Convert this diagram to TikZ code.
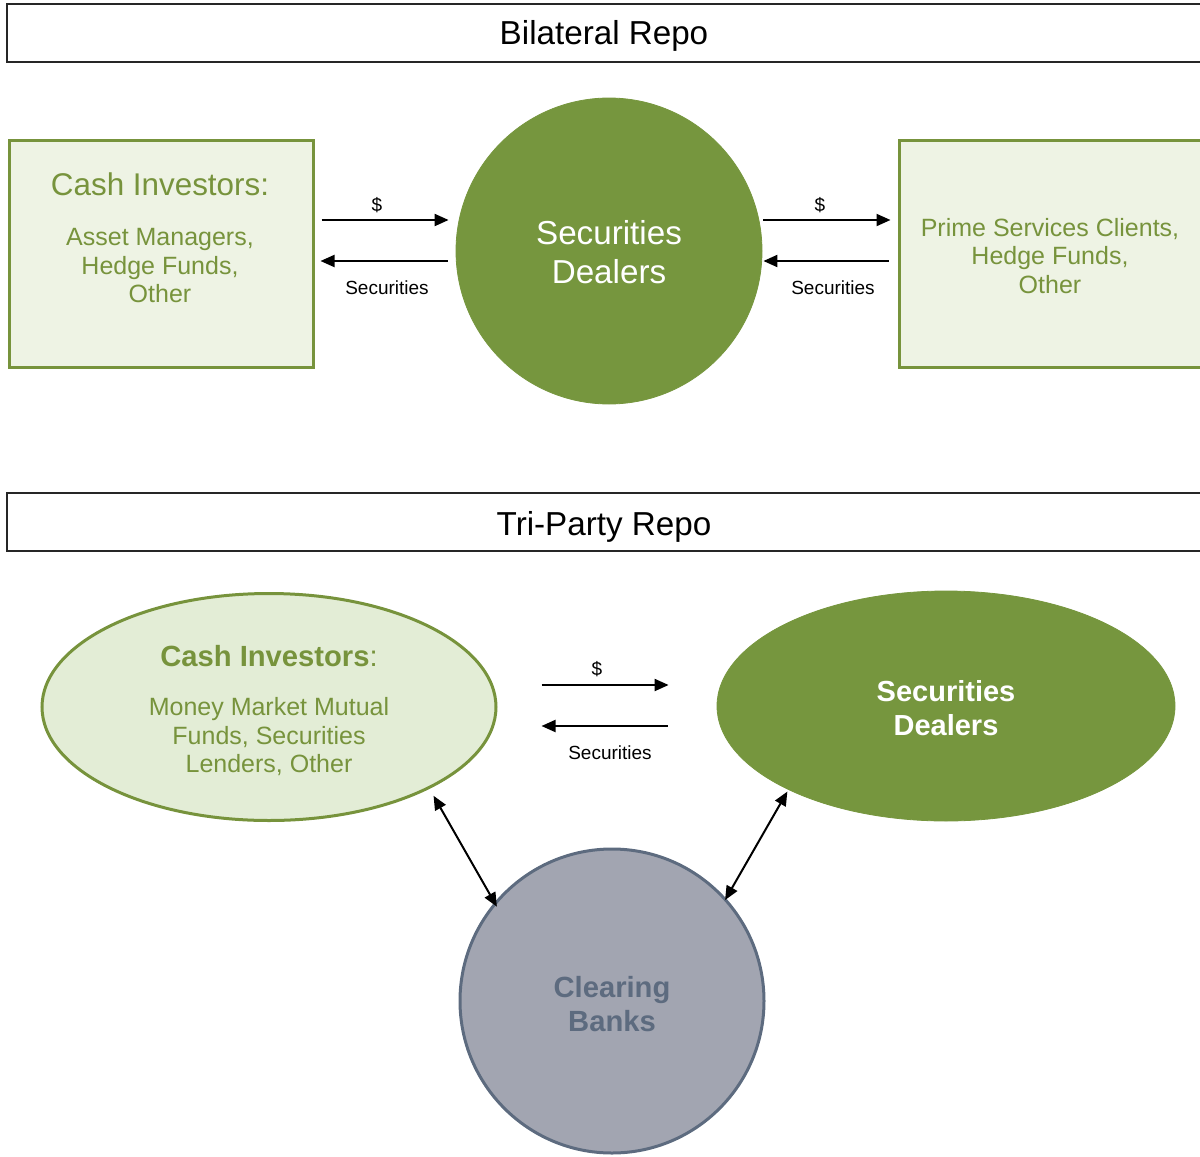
\documentclass[tikz,border=0pt]{standalone}
\usepackage{fontspec}
\setmainfont{Liberation Sans}
\usetikzlibrary{arrows.meta,calc,shapes.geometric}
\definecolor{gline}{HTML}{77933C}
\definecolor{gdark}{HTML}{76963E}
\definecolor{glight}{HTML}{EEF3E4}
\definecolor{gell}{HTML}{E3EDD6}
\definecolor{cbfill}{HTML}{A2A5B1}
\definecolor{cbline}{HTML}{5D6B7F}
\begin{document}
\begin{tikzpicture}[x=0.5pt,y=-0.5pt,
  titlebox/.style={draw=black!85,line width=0.75pt,minimum width=601.5pt,minimum height=29pt,inner sep=0pt},
  titletext/.style={font=\fontsize{16.6}{20}\selectfont,inner sep=0pt},
  gbox/.style={draw=gline,fill=glight,line width=1.5pt,minimum height=113.5pt,inner sep=0pt},
  gcirc/.style={circle,fill=gdark,draw=gdark,minimum size=153pt,inner sep=0pt},
  bigtext/.style={text=gline,font=\fontsize{15.7}{18}\selectfont,inner sep=0pt},
  gtext/.style={text=gline,align=center,font=\fontsize{12.5}{14.25}\selectfont,inner sep=0pt},
  small/.style={font=\fontsize{9.5}{11}\selectfont,inner sep=0pt},
  arr/.style={line width=1pt,-{Triangle[length=7pt,width=6pt]}},
  dbl/.style={line width=1pt,{Triangle[length=7pt,width=6pt]}-{Triangle[length=7pt,width=6pt]}},
]
\useasboundingbox (0,0) rectangle (1200,1157);

% ---------- Bilateral ----------
\node[titlebox] (t1) at (608.5,33) {};
\node[titletext] (t1txt) at (604,35.5) {Bilateral Repo};

\node[gbox,minimum width=152pt] (inv1) at (161,253.5) {};
\node[gcirc] (sd1) at (609,251) {};
\node[gbox,minimum width=155.5pt] (inv2) at (1054.5,253.5) {};

\node[bigtext] (inv1h) at (160,184) {Cash Investors:};
\node[gtext] (inv1b) at (160,266) {Asset Managers,\\Hedge Funds,\\Other};
\node[text=white,align=center,font=\fontsize{16.6}{19.5}\selectfont,inner sep=0pt] (sd1t) at (609,252) {Securities\\Dealers};
\node[gtext] (inv2b) at (1050,256) {Prime Services Clients,\\Hedge Funds,\\Other};

\draw[arr] ($(inv1.east)+(7,-33.5)$) -- ($(sd1.west)+(-7,-31)$);
\draw[arr] ($(sd1.west)+(-8,10)$) -- ($(inv1.east)+(6,7.5)$);
\draw[arr] ($(sd1.east)+(1,-31)$) -- ($(inv2.west)+(-7,-33.5)$);
\draw[arr] ($(inv2.west)+(-9,7.5)$) -- ($(sd1.east)+(1,10)$);
\node[small] (l1) at (377,205) {\$};
\node[small] (l2) at (387,288) {Securities};
\node[small] (l3) at (820,205) {\$};
\node[small] (l4) at (833,288) {Securities};

% ---------- Tri-Party ----------
\node[titlebox] (t2) at (608.5,522) {};
\node[titletext] (t2txt) at (604,526.5) {Tri-Party Repo};

\node[ellipse,draw=gline,fill=gell,line width=1.5pt,minimum width=227pt,minimum height=113.5pt,inner sep=0pt] (ci2) at (269,707) {};
\node[ellipse,fill=gdark,draw=gdark,minimum width=229pt,minimum height=115pt,inner sep=0pt] (sd2) at (946,706) {};
\node[circle,fill=cbfill,draw=cbline,line width=1.5pt,minimum size=152pt,inner sep=0pt] (cb) at (612,1001) {};

\node[text=gline,font=\fontsize{14.6}{17}\selectfont,inner sep=0pt] (ci2h) at (269,656) {\textbf{Cash Investors}:};
\node[gtext] (ci2b) at (269,737) {Money Market Mutual\\Funds, Securities\\Lenders, Other};
\node[text=white,align=center,font=\bfseries\fontsize{14.5}{17}\selectfont,inner sep=0pt] (sd2t) at (946,708) {Securities\\Dealers};
\node[text=cbline,align=center,font=\bfseries\fontsize{14.6}{17}\selectfont,inner sep=0pt] (cbt) at (612,1004) {Clearing\\Banks};

\draw[arr] ($(ci2.east)+(44,-22)$) -- ($(sd2.west)+(-48,-21)$);
\draw[arr] ($(sd2.west)+(-49,20)$) -- ($(ci2.east)+(44,19)$);
\node[small] (l5) at (597,669) {\$};
\node[small] (l6) at (610,753) {Securities};

\draw[dbl,shorten <=4pt,shorten >=-2.5pt] (ci2.-27.4) -- (cb.140);
\draw[dbl,shorten <=1pt,shorten >=-1pt] (sd2.-152) -- (cb.42);
\end{tikzpicture}
\end{document}
